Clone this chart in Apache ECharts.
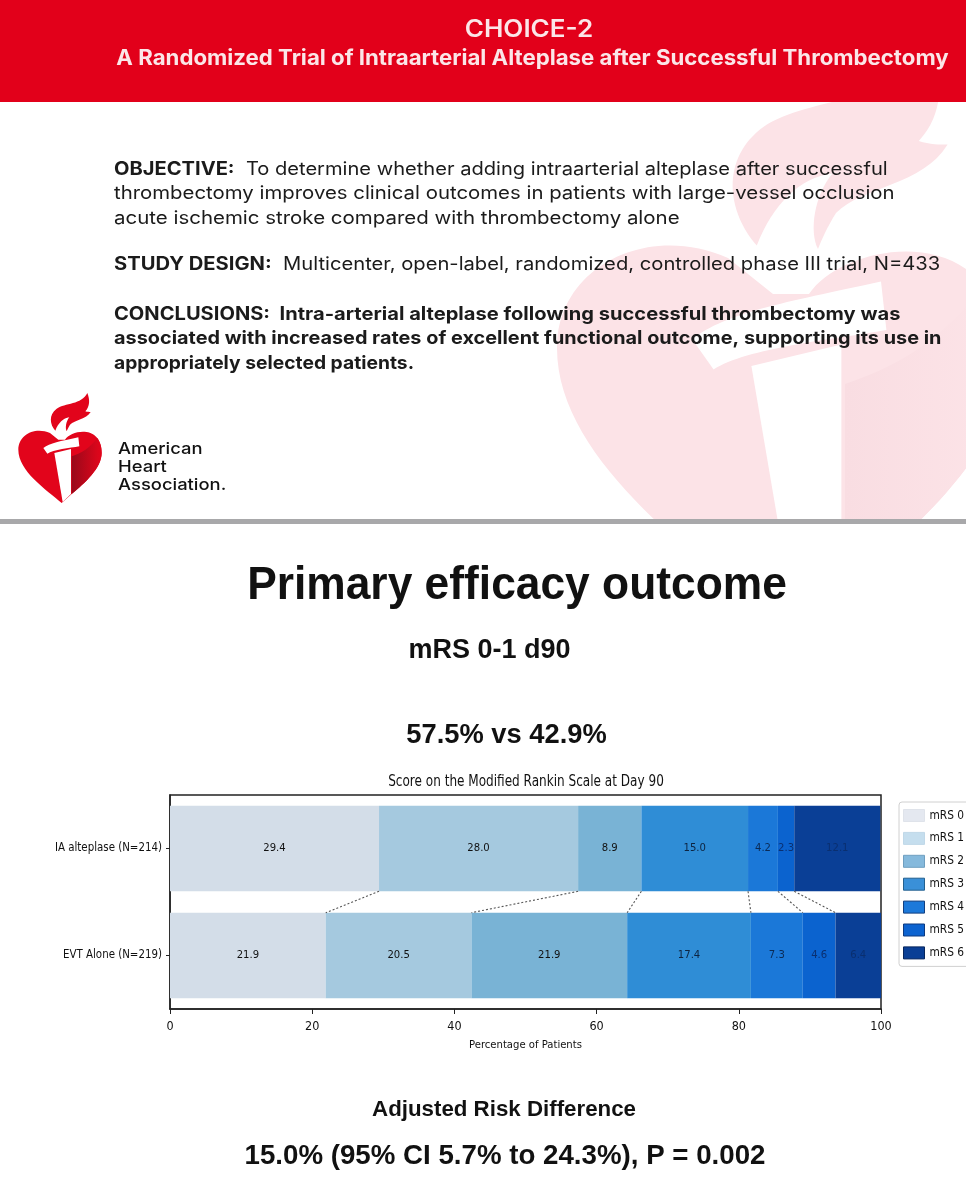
<!DOCTYPE html>
<html><head><meta charset="utf-8">
<style>html,body{margin:0;padding:0;background:#fff}#c{width:966px;height:1200px}</style>
<script src="https://cdn.jsdelivr.net/npm/echarts@6/dist/echarts.min.js"></script></head>
<body><div id="c"></div>
<script>
const categories = ['IA alteplase (N=214)', 'EVT Alone (N=219)'];
const scoreNames = ['mRS 0','mRS 1','mRS 2','mRS 3','mRS 4','mRS 5','mRS 6'];
const mrs0 = [29.4, 21.9];
const mrs1 = [28.0, 20.5];
const mrs2 = [8.9, 21.9];
const mrs3 = [15.0, 17.4];
const mrs4 = [4.2, 7.3];
const mrs5 = [2.3, 4.6];
const mrs6 = [12.1, 6.4];
const barColors = ['#d3dde8','#a5c9df','#79b3d5','#2f8dd6','#1b78d8','#0b63cf','#0a3f96'];
const legendColors = ['#e4e8f0','#c5deee','#85b9dc','#3a90d8','#1c79da','#0c63d0','#0a3f96'];
const legendBorders = ['#dfe3ea','#c0d8e8','#6f9fc0','#23608f','#123f80','#0d3a80','#06255c'];
const labelColors = ['#111','#111','#111','#0d2440','#0b2a55','#0a2f70','#0a2f70'];
const xTicks = [0,20,40,60,80,100];
const headerLines = ['CHOICE-2','A Randomized Trial of Intraarterial Alteplase after Successful Thrombectomy'];
const orgName = ['American','Heart','Association.'];
const mainTitle = 'Primary efficacy outcome';
const subTitle = 'mRS 0-1 d90';
const rates = '57.5% vs 42.9%';
const diffTitle = 'Adjusted Risk Difference';
const diffValue = '15.0% (95% CI 5.7% to 24.3%), P = 0.002';
const chartTitle = 'Score on the Modified Rankin Scale at Day 90';
const xName = 'Percentage of Patients';

const allSeries = [mrs0,mrs1,mrs2,mrs3,mrs4,mrs5,mrs6];
const connectors = [];
let a = 0, b = 0;
allSeries.slice(0,6).forEach(s => { a += s[0]; b += s[1]; connectors.push([a,b]); });

const LOGO_PATHS = {
  logoHeart:'M155 345C110 305 25 250 25 185C25 140 75 115 120 135L145 155L165 155C185 125 275 110 275 195C275 240 225 285 185 318Z',
  logoFlame:'M232 15C240 35 240 55 226 70C232 72 238 72 242 72C228 95 195 95 180 110C175 118 172 125 170 130C165 120 168 100 178 88C160 90 145 105 136 128C120 110 115 80 140 62C165 45 215 50 232 15Z',
  logoCup:'M100 180C120 165 150 160 205 148L208 175C180 180 130 185 112 197Z',
  logoStem:'M133 195L183 183L183 318L158 342Z',
  logoShade:'M185 205C215 195 240 180 262 150C275 170 275 185 275 195C275 240 225 285 185 318Z'
};
Object.keys(LOGO_PATHS).forEach(k=>echarts.graphic.registerShape(k,echarts.graphic.extendPath(LOGO_PATHS[k],{})));
function logo(x,y,s,red,shadeA,shadeB,stem,z){
  const P=(t,fill)=>({type:t,style:{fill:fill},z:z,silent:true});
  const grad=new echarts.graphic.LinearGradient(0,0,1,0,[{offset:0,color:shadeA},{offset:0.85,color:shadeB},{offset:1,color:red}]);
  return {type:'group',x:x,y:y,scaleX:s,scaleY:s,children:[P('logoHeart',red),P('logoShade',grad),P('logoFlame',red),P('logoCup',stem),P('logoStem',stem)]};
}
const bodyFont='Inter';
const condensed='DejaVu Sans Condensed, DejaVu Sans';
const T=(text,x,y,size,weight,fam,align,color,sx)=>({type:'text',x:x,y:y,z:40,silent:true,scaleX:sx||1,style:{text:text,fontSize:size,fontWeight:weight,fontFamily:fam,fill:color||'#111',textAlign:align||'left',textVerticalAlign:'middle'}});
const richStyle={b:{fontWeight:700,fontSize:18.2,fontFamily:bodyFont,fill:'#1b1b1b'},r:{fontWeight:400,fontSize:18.2,fontFamily:bodyFont,fill:'#1b1b1b'}};
const R=(text,y,sx)=>({type:'text',x:114,y:y,z:20,silent:true,scaleX:sx||1,style:{text:text,rich:richStyle,textVerticalAlign:'middle'}});

const graphics=[
  logo(512,15,1.8,'#fce3e7','#f9dde2','#fce3e7','#ffffff',1),
  {type:'rect',shape:{x:0,y:0,width:966,height:102},style:{fill:'#e2001a'},z:5,silent:true},
  {type:'rect',shape:{x:0,y:519,width:966,height:5},style:{fill:'#a8a8aa'},z:5,silent:true},
  {type:'rect',shape:{x:0,y:524,width:966,height:676},style:{fill:'#fff'},z:5,silent:true},
  T(headerLines[0],529,30,24,600,bodyFont,'center','#fbe6e8',1.085),
  T(headerLines[1],532.5,59,21,700,bodyFont,'center','#fbe6e8',1.058),
  R('{b|OBJECTIVE:}{r|  To determine whether adding intraarterial alteplase after successful}',170,1.105),
  R('{r|thrombectomy improves clinical outcomes in patients with large-vessel occlusion}',194,1.12),
  R('{r|acute ischemic stroke compared with thrombectomy alone}',219,1.125),
  R('{b|STUDY DESIGN:}{r|  Multicenter, open-label, randomized, controlled phase III trial, N=433}',265,1.11),
  R('{b|CONCLUSIONS:  Intra-arterial alteplase following successful thrombectomy was}',315,1.105),
  R('{b|associated with increased rates of excellent functional outcome, supporting its use in}',339,1.092),
  R('{b|appropriately selected patients.}',364,1.06),
  logo(10,388,1/3,'#e2041b','#98091a','#d9061b','#ffffff',10),
  T(orgName[0],118,449,16.5,500,bodyFont,'left','#111',1.115),
  T(orgName[1],118,467,16.5,500,bodyFont,'left','#111',1.115),
  T(orgName[2],118,485,16.5,500,bodyFont,'left','#111',1.115),
  T(mainTitle,517,586,46,700,'Liberation Sans','center','#111',0.964),
  T(subTitle,489.5,651,27,700,'Liberation Sans','center','#111'),
  T(rates,506.5,735,27.3,700,'Liberation Sans','center','#111'),
  T(chartTitle,526,782,15.6,400,condensed,'center','#111',0.86),
  T(diffTitle,504,1110,22.3,700,'Liberation Sans','center','#111'),
  T(diffValue,505,1156,27.7,700,'Liberation Sans','center','#111')
];

const chart=echarts.init(document.getElementById('c'),null,{renderer:'canvas'});
const barSeries=scoreNames.map((n,i)=>({
  name:n,type:'bar',stack:'mrs',barWidth:'80%',z:30,
  data:allSeries[i],
  itemStyle:{color:barColors[i]},
  label:{show:true,position:'inside',formatter:p=>p.value.toFixed(1),fontSize:11.2,fontFamily:condensed,color:labelColors[i]}
}));
chart.setOption({
  animation:false,
  backgroundColor:'#fff',
  graphic:graphics,
  legend:{
    orient:'vertical',left:899,top:802,padding:[7,6,7,4],itemWidth:21,itemHeight:12,itemGap:9.9,
    backgroundColor:'#fff',borderColor:'#d0d0d0',borderWidth:1,borderRadius:3,selectedMode:false,z:30,
    textStyle:{fontSize:11.8,fontFamily:condensed,color:'#111'},
    data:scoreNames.map((n,i)=>({name:n,icon:'rect',itemStyle:{color:legendColors[i],borderColor:legendBorders[i],borderWidth:1}}))
  },
  grid:{left:170,right:85,top:795,bottom:191,show:true,borderColor:'#222',borderWidth:1.5,backgroundColor:'transparent',z:25},
  xAxis:{type:'value',min:0,max:100,interval:20,
    name:xName,nameLocation:'middle',nameGap:31,nameTextStyle:{fontSize:11.2,fontFamily:condensed,color:'#111'},
    axisLine:{show:true,lineStyle:{color:'#222',width:1.5}},axisTick:{show:true,length:5,lineStyle:{color:'#222'}},
    axisLabel:{fontSize:12.5,fontFamily:condensed,color:'#111',margin:11,customValues:xTicks},splitLine:{show:false},z:30},
  yAxis:{type:'category',inverse:true,data:categories,
    axisLine:{show:true,lineStyle:{color:'#222',width:1.5}},axisTick:{show:true,alignWithLabel:true,length:4,lineStyle:{color:'#222'}},
    axisLabel:{fontSize:11.4,fontFamily:condensed,color:'#111',margin:8},z:30},
  series:barSeries.concat([{
    type:'custom',name:'connectors',silent:true,z:31,
    encode:{x:[0,1]},
    data:connectors,
    renderItem:(params,api)=>{
      const half=api.size([0,1])[1]*0.4;
      const p1=api.coord([api.value(0),0]);
      const p2=api.coord([api.value(1),1]);
      return {type:'line',shape:{x1:p1[0],y1:p1[1]+half,x2:p2[0],y2:p2[1]-half},
        style:{stroke:'#555',lineWidth:1.1,lineDash:[2,2]}};
    }
  }])
});
</script></body></html>
